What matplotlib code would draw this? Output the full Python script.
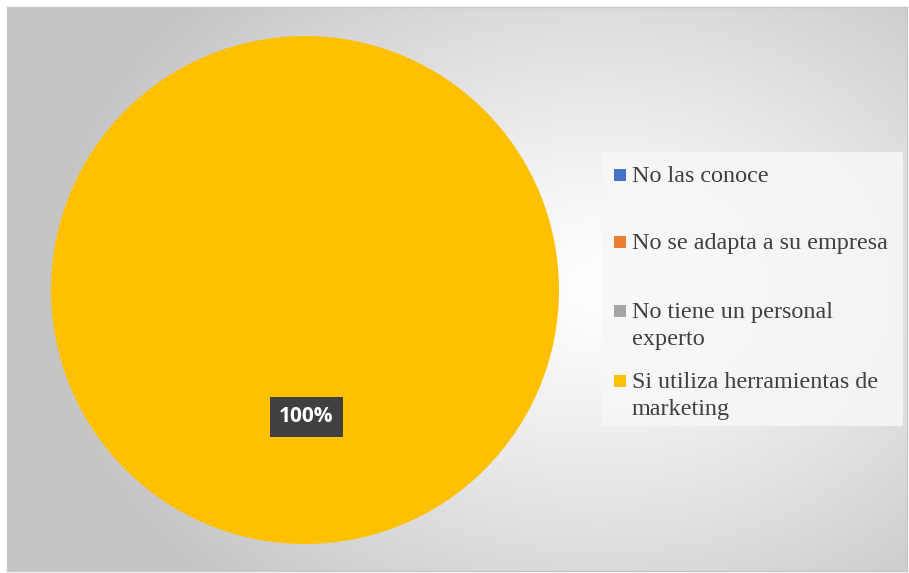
import numpy as np
import matplotlib.pyplot as plt
from matplotlib.patches import Rectangle

categories = ['No las conoce', 'No se adapta a su empresa',
              'No tiene un personal\nexperto', 'Si utiliza herramientas de\nmarketing']
values = [0, 0, 0, 100]
colors = ['#4472C4', '#ED7D31', '#A5A5A5', '#FFC000']

W, H = 909, 573
fig = plt.figure(figsize=(W / 100, H / 100), dpi=100)
fig.patch.set_facecolor('white')

# chart area with radial grey gradient
x0, y0, x1, y1 = 7, 7, 907, 571
bg = fig.add_axes([x0 / W, 1 - y1 / H, (x1 - x0) / W, (y1 - y0) / H])
xx, yy = np.meshgrid(np.arange(x0, x1), np.arange(y0, y1))
d = np.hypot((xx - 600) / 600, (yy - 285) / 450)
g = np.clip(1.0 - 0.25 * d ** 1.2, 0.77, 1)
bg.imshow(np.dstack([g, g, g]), aspect='auto', extent=[0, 1, 0, 1], origin='upper')
bg.set_xticks([])
bg.set_yticks([])
for s in bg.spines.values():
    s.set_color('#c8c8c8')
    s.set_linewidth(1)

# pie
cx, cy, r = 305, 290, 254
ax = fig.add_axes([(cx - r) / W, 1 - (cy + r) / H, 2 * r / W, 2 * r / H])
ax.set_facecolor('none')
wedges, _ = ax.pie(values, colors=colors, startangle=90, counterclock=False,
                   radius=1, wedgeprops=dict(linewidth=0))
ax.set_xlim(-1, 1)
ax.set_ylim(-1, 1)
ax.set_aspect('auto')

# data label
for i, v in enumerate(values):
    if v > 0:
        ax.text(0.005, -0.50, f'{v}%', ha='center', va='center', color='white',
                fontsize=15, fontweight='bold', family='Open Sans',
                bbox=dict(boxstyle='square,pad=0.45', fc='#404040', ec='none'))

# legend
leg = fig.add_axes([0, 0, 1, 1])
leg.set_xlim(0, W)
leg.set_ylim(H, 0)
leg.axis('off')
leg.add_patch(Rectangle((602, 152), 301, 274, fc='#f7f7f7', ec='none', alpha=0.85))
ys = [175, 242, 311, 381]
for y, lab, c in zip(ys, categories, colors):
    leg.add_patch(Rectangle((614, y - 6), 12, 12, fc=c, ec='none'))
    leg.text(632, y - 9, lab, ha='left', va='top', fontsize=17.4,
             family='Liberation Serif', color='#404040', linespacing=1.37)

fig.savefig('out.png', dpi=100)
